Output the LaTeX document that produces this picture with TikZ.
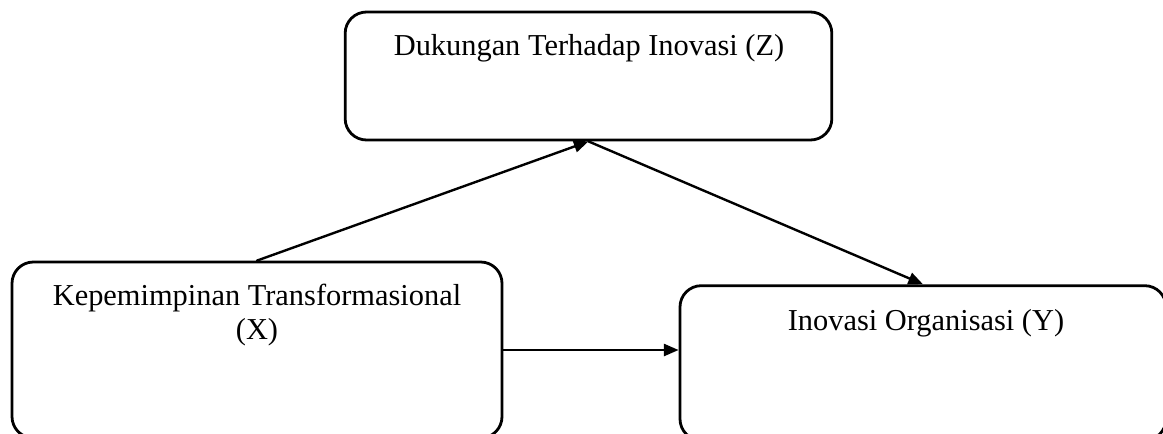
\documentclass[tikz,border=0pt]{standalone}
\usepackage{fontspec}
\setmainfont{Liberation Serif}
\usetikzlibrary{arrows.meta,positioning}
\tikzset{
  every picture/.style={black, line cap=round, line join=round,
    >={Triangle[length=11pt,width=9pt]}},
  every node/.style={font=\fontsize{22.8}{24}\selectfont},
  % Kotak variabel
  varbox/.style={draw, line width=2.1pt, rounded corners=16pt, rectangle, inner sep=0pt},
  vartext/.style={anchor=base, align=center, inner sep=0pt},
  % Panah hubungan
  link/.style={line width=1.8pt, ->},
}
\begin{document}
\begin{tikzpicture}[x=0.75pt, y=-0.75pt]
  \useasboundingbox (0,0) rectangle (1163,433);
  \clip (0,0) rectangle (1163,433);
  % Kotak
  \node[varbox, minimum width=365pt, minimum height=96pt] (Z) at (588.5,76) {};
  \node[varbox, minimum width=367.5pt, minimum height=132pt] (X) at (257,350) {};
  \node[varbox, minimum width=364.5pt, minimum height=116pt] (Y) at (923,363) {};
  % Teks
  \node[vartext] (zt) at (589,55) {Dukungan Terhadap Inovasi (Z)};
  \node[vartext] (xt) at (257,339) {Kepemimpinan Transformasional\\[1pt](X)};
  \node[vartext] (yt) at (926,330) {Inovasi Organisasi (Y)};
  % Panah
  \draw[link] (X.north) -- (Z.south);
  \draw[link] (Z.south) -- (Y.north);
  \draw[link] (X.east) -- (X.east -| Y.west);
\end{tikzpicture}
\end{document}
